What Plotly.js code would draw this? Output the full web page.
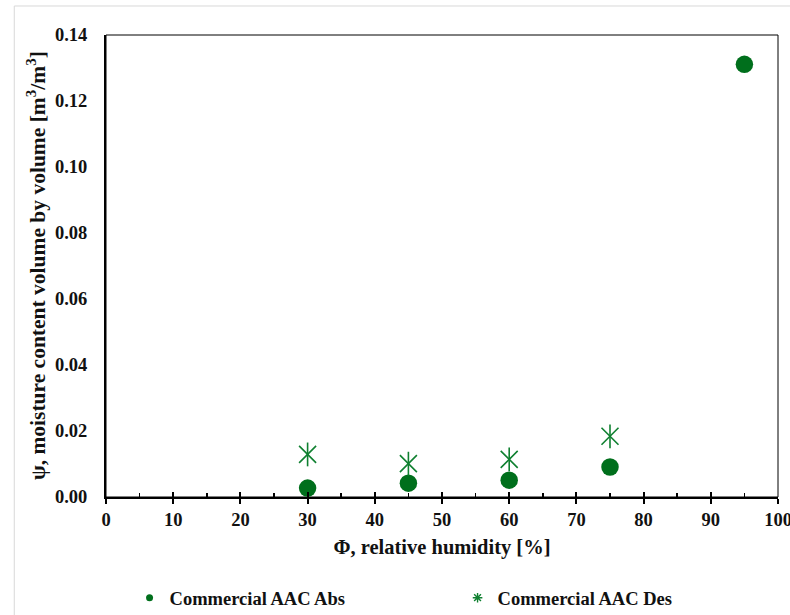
<!DOCTYPE html>
<html>
<head>
<meta charset="utf-8">
<script src="https://cdn.plot.ly/plotly-3.0.1.min.js"></script>
<style>html,body{margin:0;padding:0;background:#fff;}#chart{width:790px;height:615px;}</style>
</head>
<body>
<div id="chart"></div>
<script>
// Data
const rhAbs = [30, 45, 60, 75, 95];
const psiAbs = [0.0027, 0.0042, 0.0051, 0.0091, 0.1311];
const rhDes = [30, 45, 60, 75];
const psiDes = [0.0129, 0.0101, 0.0114, 0.0184];
const seriesNames = ['Commercial AAC Abs', 'Commercial AAC Des'];
const xTitle = 'Φ, relative humidity [%]';
const yTitle = 'ψ, moisture content volume by volume [m<sup>3</sup>/m<sup>3</sup>]';

const green = '#006f1c';
const desGreen = '#0f8030';
const font = 'Liberation Serif, Times New Roman, serif';

const traces = [
  {
    x: rhAbs, y: psiAbs, name: seriesNames[0], type: 'scatter', mode: 'markers', showlegend: false,
    marker: {symbol: 'circle', size: 17.5, color: green}
  },
  {
    x: rhDes, y: psiDes, name: seriesNames[1], type: 'scatter', mode: 'markers', showlegend: false,
    marker: {symbol: 'x-thin-open', size: 17, color: desGreen, line: {color: desGreen, width: 1.6}}
  },
  {
    x: rhDes, y: psiDes, name: seriesNames[1], type: 'scatter', mode: 'markers', showlegend: false,
    marker: {symbol: 'line-ns-open', size: 17, color: desGreen, line: {color: desGreen, width: 1.6}}
  },
  // legend entries (empty traces, smaller legend symbols as in the reference)
  {
    x: [null], y: [null], name: seriesNames[0], type: 'scatter', mode: 'markers',
    marker: {symbol: 'circle', size: 7, color: green}
  },
  {
    x: [null], y: [null], name: seriesNames[1], type: 'scatter', mode: 'markers',
    marker: {symbol: 'asterisk-open', size: 8, color: desGreen, line: {color: desGreen, width: 1.4}}
  },
  {
    x: rhAbs, y: psiAbs, xaxis: 'x2', type: 'scatter', mode: 'markers', showlegend: false,
    hoverinfo: 'skip', marker: {opacity: 0}
  }
];

const layout = {
  width: 790, height: 615,
  paper_bgcolor: '#ffffff', plot_bgcolor: '#ffffff',
  margin: {l: 106, r: 12, t: 35, b: 118, autoexpand: false},
  font: {family: font, color: '#111', size: 19},
  showlegend: true,
  xaxis: {
    range: [0, 100], dtick: 10, tick0: 0,
    showgrid: false, zeroline: false,
    showline: true, linecolor: '#000', linewidth: 2,
    ticks: 'outside', ticklen: 5, tickwidth: 2, tickcolor: '#000',
    ticklabeloverflow: 'allow',
    tickfont: {family: font, size: 18.5, weight: 'bold', color: '#111'},
    title: {text: '<b>' + xTitle + '</b>', font: {family: font, size: 20.5, color: '#111'}, standoff: 10}
  },
  xaxis2: {
    overlaying: 'x', anchor: 'y', side: 'bottom',
    range: [0, 100], dtick: 10, tick0: 0,
    showgrid: false, zeroline: false, showline: false, showticklabels: false,
    ticks: 'inside', ticklen: 5, tickwidth: 2, tickcolor: '#000',
    minor: {dtick: 5, ticks: 'inside', ticklen: 4, tickwidth: 1.5, tickcolor: '#000', showgrid: false}
  },
  yaxis: {
    range: [0, 0.14], dtick: 0.02, tick0: 0, tickformat: '.2f',
    showgrid: false, zeroline: false,
    showline: true, linecolor: '#000', linewidth: 2,
    ticks: 'outside', ticklen: 13, tickcolor: 'rgba(0,0,0,0)', tickwidth: 0,
    tickfont: {family: font, size: 18.5, weight: 'bold', color: '#111'}
  },
  annotations: [
    {text: '<b>' + yTitle + '</b>', xref: 'paper', yref: 'paper', x: -0.104, y: 0.5,
     xanchor: 'center', yanchor: 'middle', textangle: -90, showarrow: false,
     font: {family: font, size: 21.5, color: '#111'}}
  ],
  legend: {
    orientation: 'h', xref: 'container', x: 0.164, xanchor: 'left', y: -0.219, yanchor: 'middle',
    entrywidth: 283, entrywidthmode: 'pixels',
    font: {family: font, size: 18.5, weight: 'bold', color: '#111'},
    itemwidth: 30, tracegroupgap: 0
  },
  shapes: [
    {type: 'rect', xref: 'paper', yref: 'paper', x0: 0, x1: 1, y0: 0, y1: 1,
     line: {color: '#000', width: 1}, fillcolor: 'rgba(0,0,0,0)', layer: 'below'},
    {type: 'rect', xref: 'paper', yref: 'paper', x0: -0.1365, x1: 1.2, y0: -0.5, y1: 1.0628,
     line: {color: '#d9d9d9', width: 1}, fillcolor: 'rgba(0,0,0,0)', layer: 'below'}
  ]
};

Plotly.newPlot('chart', traces, layout, {displayModeBar: false, staticPlot: true});
</script>
</body>
</html>
